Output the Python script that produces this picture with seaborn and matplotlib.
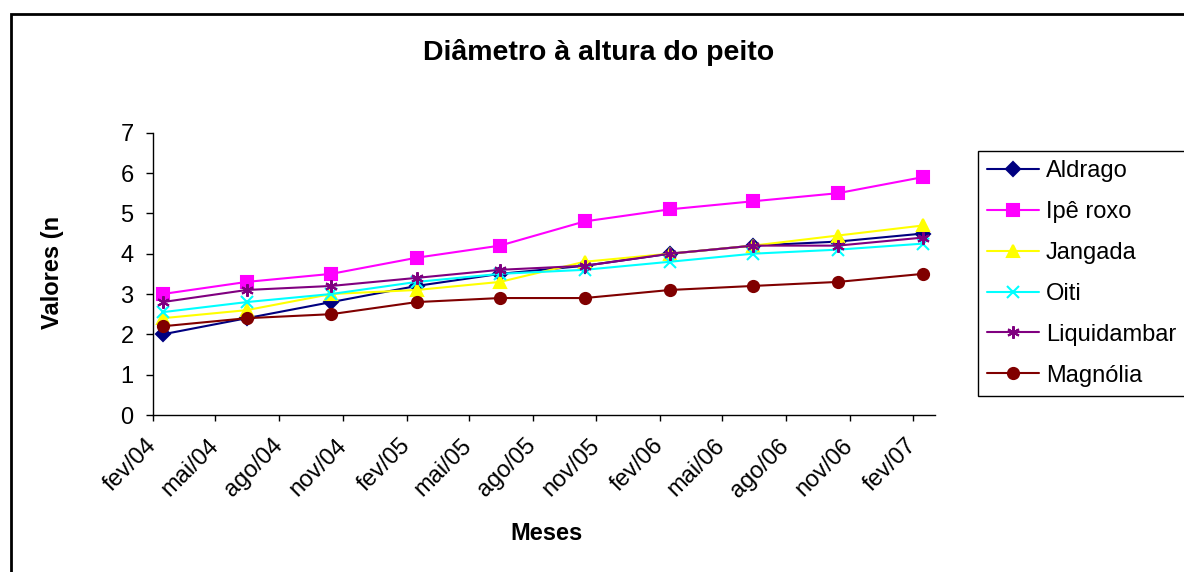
import pandas as pd
import matplotlib
matplotlib.use('Agg')
import matplotlib.pyplot as plt
from matplotlib.patches import Rectangle
import seaborn as sns

# %% Data
datas = pd.to_datetime(['2004-02-15', '2004-06-15', '2004-10-15', '2005-02-15', '2005-06-15',
                        '2005-10-15', '2006-02-15', '2006-06-15', '2006-10-15', '2007-02-15'])

aldrago = [2.0, 2.4, 2.8, 3.2, 3.5, 3.7, 4.0, 4.2, 4.3, 4.5]
ipe_roxo = [3.0, 3.3, 3.5, 3.9, 4.2, 4.8, 5.1, 5.3, 5.5, 5.9]
jangada = [2.4, 2.6, 3.0, 3.1, 3.3, 3.8, 4.0, 4.2, 4.45, 4.7]
oiti = [2.55, 2.8, 3.0, 3.3, 3.5, 3.6, 3.8, 4.0, 4.1, 4.25]
liquidambar = [2.8, 3.1, 3.2, 3.4, 3.6, 3.7, 4.0, 4.2, 4.2, 4.4]
magnolia = [2.2, 2.4, 2.5, 2.8, 2.9, 2.9, 3.1, 3.2, 3.3, 3.5]

especies = ['Aldrago', 'Ipê roxo', 'Jangada', 'Oiti', 'Liquidambar', 'Magnólia']
valores = [aldrago, ipe_roxo, jangada, oiti, liquidambar, magnolia]

tick_datas = pd.date_range('2004-02-01', '2007-02-01', freq='3MS')
tick_labels = ['fev/04', 'mai/04', 'ago/04', 'nov/04', 'fev/05', 'mai/05', 'ago/05',
               'nov/05', 'fev/06', 'mai/06', 'ago/06', 'nov/06', 'fev/07']

# %% Style
cores = {'Aldrago': '#000080', 'Ipê roxo': '#FF00FF', 'Jangada': '#FFFF00',
         'Oiti': '#00FFFF', 'Liquidambar': '#800080', 'Magnólia': '#800000'}
marcadores = {'Aldrago': ('D', 7), 'Ipê roxo': ('s', 8), 'Jangada': ('^', 9),
              'Oiti': ('x', 8), 'Liquidambar': ((6, 2, 0), 9), 'Magnólia': ('o', 8)}

sns.set_style('white')
plt.rcParams['font.family'] = ['Liberation Sans', 'DejaVu Sans']
plt.rcParams['text.color'] = 'black'
plt.rcParams['axes.labelcolor'] = 'black'

W, H = 1184, 572
fig = plt.figure(figsize=(W / 100, H / 100), dpi=100)
ax = fig.add_axes([153 / W, 1 - 415 / H, (935 - 153) / W, (415 - 132.7) / H])

for nome, vals in zip(especies, valores):
    mk, ms = marcadores[nome]
    c = cores[nome]
    sns.lineplot(x=datas, y=vals, ax=ax, color=c, lw=1.5, marker=mk, markersize=ms,
                 markeredgecolor=c, markerfacecolor=c, markeredgewidth=1.5, label=nome)

ax.set_ylim(0, 7)
ax.set_yticks(range(0, 8))
ax.set_xlim(pd.Timestamp('2004-02-01'), pd.Timestamp('2007-03-04'))
ax.set_xticks(tick_datas)
ax.set_xticklabels(tick_labels, rotation=45, ha='right', va='center', rotation_mode='anchor')
ax.tick_params(axis='both', labelsize=17, colors='black', direction='out', width=1,
               left=True, bottom=True)
ax.tick_params(axis='y', length=5.4, pad=8.5)
ax.tick_params(axis='x', length=4.3, pad=15.5)
ax.set_xlabel('')
ax.set_ylabel('')
for s in ['top', 'right']:
    ax.spines[s].set_visible(False)
for s in ['left', 'bottom']:
    ax.spines[s].set_color('black')
    ax.spines[s].set_linewidth(1)

leg = ax.legend(loc='upper left', bbox_to_anchor=(978 / W, 1 - 150.7 / H),
                bbox_transform=fig.transFigure, borderaxespad=0, fontsize=17,
                frameon=True, fancybox=False, edgecolor='black', framealpha=1,
                handlelength=2.2, handletextpad=0.28, labelspacing=0.8, borderpad=0.4)
leg.get_frame().set_linewidth(1)

fig.text(599 / W, 1 - 52 / H, 'Diâmetro à altura do peito', ha='center', va='center',
         fontsize=20.5, fontweight='bold')
fig.text(546 / W, 1 - 533 / H, 'Meses', ha='center', va='center', fontsize=17, fontweight='bold')
fig.text(53 / W, 1 - 272 / H, 'Valores (n', ha='center', va='center', rotation=90,
         fontsize=17, fontweight='bold')

# chart area border
fig.patches.append(Rectangle((10.5 / W, -0.1), 1.2, 1.1 - 13.8 / H, transform=fig.transFigure,
                             fill=False, edgecolor='black', linewidth=2, figure=fig))

fig.savefig('out.png', dpi=100)
